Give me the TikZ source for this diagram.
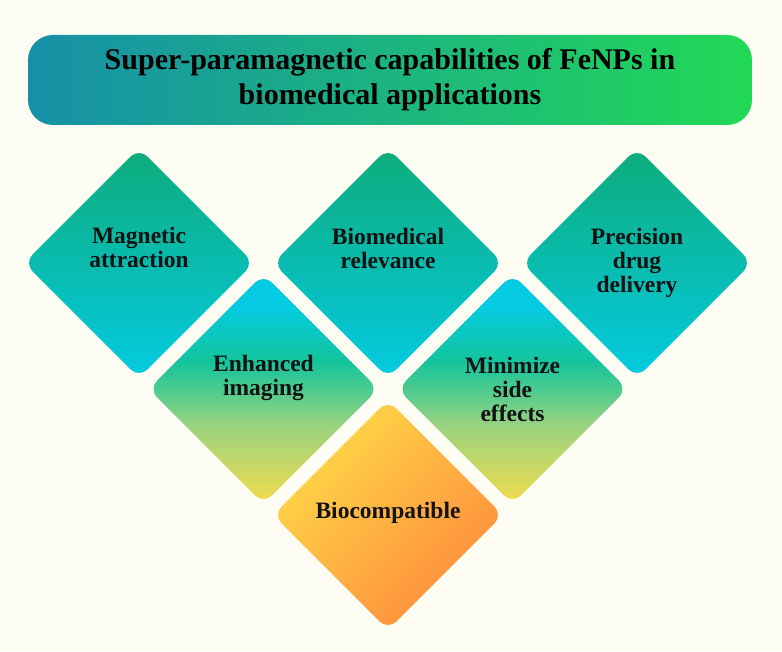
\documentclass[tikz,border=0pt]{standalone}
\usepackage{fontspec}
\setmainfont{Liberation Serif}
\usetikzlibrary{shapes.geometric}
\definecolor{bgcream}{HTML}{FDFDF4}
\definecolor{bannerleft}{HTML}{1690A8}
\definecolor{bannerright}{HTML}{22D957}
\definecolor{tealtop}{HTML}{0EAC7A}
\definecolor{cyanbot}{HTML}{04CBE2}
\definecolor{seagreen}{HTML}{14C49C}
\definecolor{palegreen}{HTML}{9AD37F}
\definecolor{lemon}{HTML}{F2DC4C}
\definecolor{sunny}{HTML}{FFDA48}
\definecolor{tangerine}{HTML}{FF8A3C}
\pgfdeclareverticalshading{cyanlemon}{100bp}{color(0bp)=(lemon); color(25bp)=(lemon); color(42bp)=(palegreen); color(56bp)=(seagreen); color(68bp)=(cyanbot); color(100bp)=(cyanbot)}
\begin{document}
\begin{tikzpicture}[x=1pt,y=1pt,
    tile/.style={diamond, minimum width=230pt, minimum height=230pt, inner sep=0pt,
      rounded corners=12pt, align=center, font=\fontsize{23.5}{24}\selectfont\bfseries, text=black!93},
    toptile/.style={tile, top color=tealtop, bottom color=cyanbot},
    midtile/.style={tile, shading=cyanlemon},
    lasttile/.style={tile, top color=sunny, bottom color=tangerine, shading angle=45}]
  \fill[bgcream] (0,0) rectangle (782,651);
  \useasboundingbox (0,0) rectangle (782,651);
  % title banner
  \node[rounded corners=25pt, minimum width=724pt, minimum height=90pt, inner sep=0pt,
    left color=bannerleft, right color=bannerright, align=center,
    font=\fontsize{30}{35}\selectfont\bfseries] (title) at (390,571)
    {Super-paramagnetic capabilities of FeNPs in\\biomedical applications};
  % top row
  \node[toptile] (mag) at (139,388) {Magnetic\\attraction\\[8pt]};
  \node[toptile] (bio) at (388,388) {Biomedical\\relevance\\[6pt]};
  \node[toptile] (prec) at (637,388) {Precision\\drug\\delivery};
  % middle row
  \node[midtile] (img) at (263.5,262) {Enhanced\\imaging\\[4pt]};
  \node[midtile] (side) at (512.5,262) {Minimize\\side\\effects};
  % bottom
  \node[lasttile] (compat) at (388,136) {Biocompatible\\[-14pt]};
\end{tikzpicture}
\end{document}
